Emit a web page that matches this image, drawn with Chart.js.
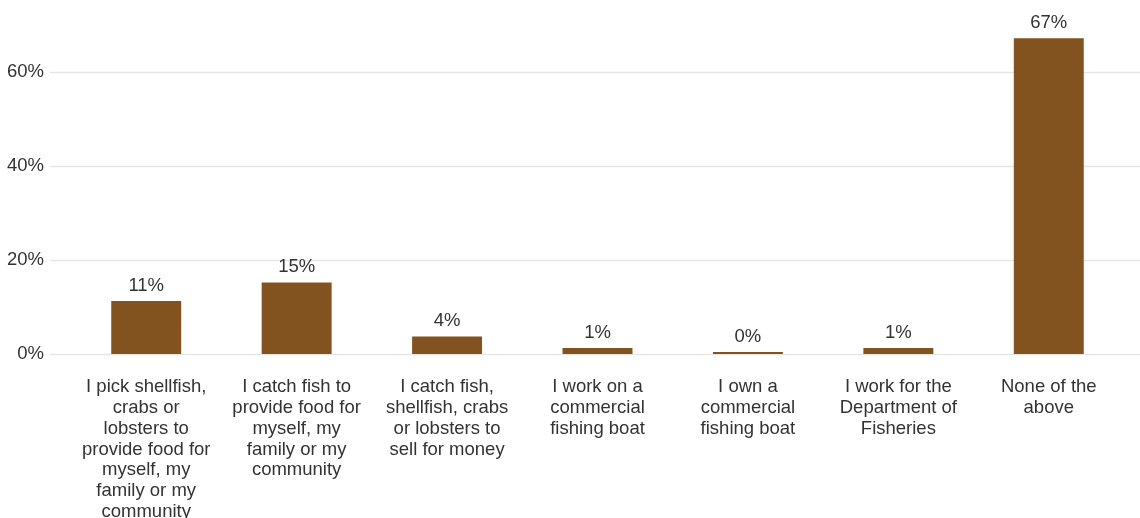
<!DOCTYPE html>
<html>
<head>
<meta charset="utf-8">
<script src="https://cdn.jsdelivr.net/npm/chart.js@4.4.1/dist/chart.umd.min.js"></script>
<style>
  html, body { margin: 0; padding: 0; background: #fff; }
  #wrap { width: 1140px; height: 518px; position: relative; }
</style>
</head>
<body>
<div id="wrap"><canvas id="myChart"></canvas></div>
<script>
const categories = [
    ["I pick shellfish,", "crabs or", "lobsters to", "provide food for", "myself, my", "family or my", "community"],
    ["I catch fish to", "provide food for", "myself, my", "family or my", "community"],
    ["I catch fish,", "shellfish, crabs", "or lobsters to", "sell for money"],
    ["I work on a", "commercial", "fishing boat"],
    ["I own a", "commercial", "fishing boat"],
    ["I work for the", "Department of", "Fisheries"],
    ["None of the", "above"]
];
const shares = [11.3, 15.2, 3.7, 1.3, 0.4, 1.3, 67.2];
const yTicks = [0, 20, 40, 60];

const textColor = "#333333";
const barColor = "#83531f";
const fontFamily = "'Liberation Sans', Arial, Helvetica, sans-serif";
const fontSize = 18.5;

// light horizontal rules, running past the plot area on both sides
const gridPlugin = {
    id: "wideGrid",
    beforeDatasetsDraw(chart) {
        const ctx = chart.ctx;
        const y = chart.scales.y;
        ctx.save();
        ctx.strokeStyle = "#e6e6e6";
        ctx.lineWidth = 1.5;
        yTicks.forEach(t => {
            const py = Math.round(y.getPixelForValue(t)) + 0.5;
            ctx.beginPath();
            ctx.moveTo(50, py);
            ctx.lineTo(chart.width, py);
            ctx.stroke();
        });
        ctx.restore();
    }
};

// percentage above each bar
const valueLabels = {
    id: "valueLabels",
    afterDatasetsDraw(chart) {
        const ctx = chart.ctx;
        const meta = chart.getDatasetMeta(0);
        ctx.save();
        ctx.font = fontSize + "px " + fontFamily;
        ctx.fillStyle = textColor;
        ctx.textAlign = "center";
        ctx.textBaseline = "bottom";
        meta.data.forEach((bar, i) => {
            ctx.fillText(Math.round(shares[i]) + "%", bar.x, bar.y - 6);
        });
        ctx.restore();
    }
};

const ctx = document.getElementById("myChart").getContext("2d");
const myChart = new Chart(ctx, {
    type: "bar",
    data: {
        labels: categories,
        datasets: [{
            data: shares,
            backgroundColor: barColor,
            borderWidth: 0,
            barPercentage: 0.465,
            categoryPercentage: 1
        }]
    },
    options: {
        responsive: true,
        maintainAspectRatio: false,
        animation: false,
        layout: {
            padding: { top: 25, right: 16, left: 0, bottom: 0 }
        },
        plugins: {
            legend: { display: false },
            tooltip: { enabled: false }
        },
        scales: {
            x: {
                grid: { display: false, drawTicks: false },
                border: { display: false },
                ticks: {
                    color: textColor,
                    font: { family: fontFamily, size: fontSize, lineHeight: 1.12 },
                    padding: 23,
                    maxRotation: 0,
                    autoSkip: false
                },
                afterFit(scale) { scale.height = 164; }
            },
            y: {
                min: 0,
                max: 70,
                grid: { display: false, drawTicks: false },
                border: { display: false },
                ticks: {
                    stepSize: 20,
                    color: textColor,
                    font: { family: fontFamily, size: fontSize },
                    padding: 27,
                    callback: v => yTicks.includes(v) ? v + "%" : ""
                },
                afterFit(scale) {
                    scale.width = 71;
                    // the big tick padding shouldn't push the plot top down
                    scale.paddingTop = 0;
                    scale.paddingBottom = 0;
                }
            }
        }
    },
    plugins: [gridPlugin, valueLabels]
});
</script>
</body>
</html>
